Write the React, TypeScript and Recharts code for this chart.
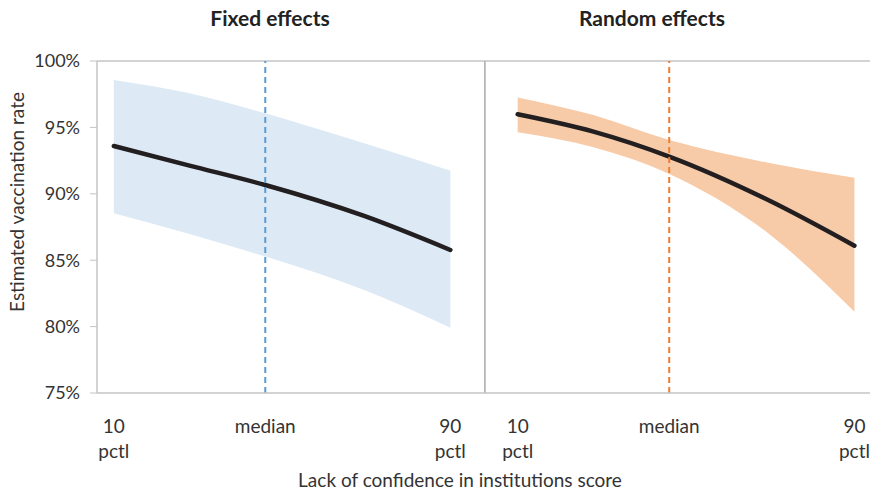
import React from 'react';
import { ComposedChart, Area, Line, XAxis, YAxis, ReferenceLine } from 'recharts';

const xScore = [10, 28, 46, 69.5, 90];
const fixedMean = [93.6, 92.12, 90.66, 88.33, 85.77];
const fixedUpper = [98.57, 97.57, 96.06, 93.8, 91.74];
const fixedLower = [88.53, 86.97, 85.27, 82.76, 79.92];
const randomMean = [95.99, 94.68, 92.8, 89.53, 86.09];
const randomUpper = [97.26, 95.93, 94.05, 92.34, 91.21];
const randomLower = [94.63, 93.5, 91.49, 87.03, 81.12];
const yTicks = [75, 80, 85, 90, 95, 100];
const xTickValues = [10, 46, 90];
const xTickLabels = [['10', 'pctl'], ['median'], ['90', 'pctl']];
const medianScore = 46;

const FONT = 'Lato, "Open Sans", sans-serif';
const TEXT = '#333333';
const AXIS = '#c4c4c4';

const fixedData = xScore.map((x, i) => ({ x, mean: fixedMean[i], band: [fixedLower[i], fixedUpper[i]] }));
const randomData = xScore.map((x, i) => ({ x, mean: randomMean[i], band: [randomLower[i], randomUpper[i]] }));

const XTick = (props: any) => {
  const { x, y, payload } = props;
  const idx = xTickValues.indexOf(payload.value);
  const lines = idx >= 0 ? xTickLabels[idx] : [];
  return (
    <text x={x} y={y} textAnchor="middle" fill={TEXT} fontSize={19} fontFamily={FONT}>
      {lines.map((l, i) => (
        <tspan key={i} x={x} dy={i === 0 ? 32 : 25}>{l}</tspan>
      ))}
    </text>
  );
};

const H = 494;
const TOP = 61;
const XAXIS_H = 101;

export default function App() {
  return (
    <div style={{ position: 'absolute', left: 0, top: 0, width: 870, height: 494, background: '#fff', fontFamily: FONT }}>
      <div style={{ position: 'absolute', left: 170, width: 200, top: 5, textAlign: 'center', fontWeight: 700, fontSize: 21, color: '#222' }}>Fixed effects</div>
      <div style={{ position: 'absolute', left: 552, width: 200, top: 5, textAlign: 'center', fontWeight: 700, fontSize: 21, color: '#222' }}>Random effects</div>
      <div style={{ position: 'absolute', left: 16, top: 202, width: 0, height: 0 }}>
        <div style={{ position: 'absolute', transform: 'translate(-50%, -50%) rotate(-90deg)', whiteSpace: 'nowrap', fontSize: 19, color: TEXT }}>Estimated vaccination rate</div>
      </div>
      <div style={{ position: 'absolute', left: 210, width: 500, top: 468, textAlign: 'center', fontSize: 19, color: TEXT }}>Lack of confidence in institutions score</div>

      <div style={{ position: 'absolute', left: 0, top: 0 }}>
        <ComposedChart width={484} height={H} data={fixedData} margin={{ top: TOP, right: 0, bottom: 0, left: 0 }}>
          <XAxis dataKey="x" type="number" domain={[6, 98]} ticks={xTickValues} allowDataOverflow height={XAXIS_H}
            tick={<XTick />} tickLine={false} axisLine={{ stroke: AXIS, strokeWidth: 1.5 }} interval={0} />
          <YAxis type="number" domain={[75, 100]} ticks={yTicks} width={97} tickSize={7} tickMargin={10}
            tickFormatter={(v: number) => `${v}%`} tick={{ fill: TEXT, fontSize: 18, fontFamily: FONT }}
            tickLine={{ stroke: AXIS }} axisLine={{ stroke: AXIS, strokeWidth: 1.5 }} />
          <ReferenceLine y={100} stroke={AXIS} strokeWidth={1.5} />
          <Area dataKey="band" type="monotone" stroke="none" fill="#ddeaf6" fillOpacity={1} isAnimationActive={false} />
          <Line dataKey="mean" type="monotone" stroke="#231f20" strokeWidth={4.5} strokeLinecap="round" dot={false} isAnimationActive={false} />
          <ReferenceLine x={medianScore} stroke="#5b9bd5" strokeWidth={2} strokeDasharray="6 4" />
        </ComposedChart>
      </div>

      <div style={{ position: 'absolute', left: 484, top: 0 }}>
        <ComposedChart width={386} height={H} data={randomData} margin={{ top: TOP, right: 0, bottom: 0, left: 0 }}>
          <XAxis dataKey="x" type="number" domain={[2, 93.7]} ticks={xTickValues} allowDataOverflow height={XAXIS_H}
            tick={<XTick />} tickLine={false} axisLine={{ stroke: AXIS, strokeWidth: 1.5 }} interval={0} />
          <YAxis type="number" domain={[75, 100]} hide />
          <ReferenceLine y={100} stroke={AXIS} strokeWidth={1.5} />
          <ReferenceLine x={2} stroke="#b4b4b4" strokeWidth={3.5} />
          <Area dataKey="band" type="monotone" stroke="none" fill="#f8cba8" fillOpacity={1} isAnimationActive={false} />
          <Line dataKey="mean" type="monotone" stroke="#231f20" strokeWidth={4.5} strokeLinecap="round" dot={false} isAnimationActive={false} />
          <ReferenceLine x={medianScore} stroke="#ed7d31" strokeWidth={2} strokeDasharray="6 4" />
        </ComposedChart>
      </div>
    </div>
  );
}
